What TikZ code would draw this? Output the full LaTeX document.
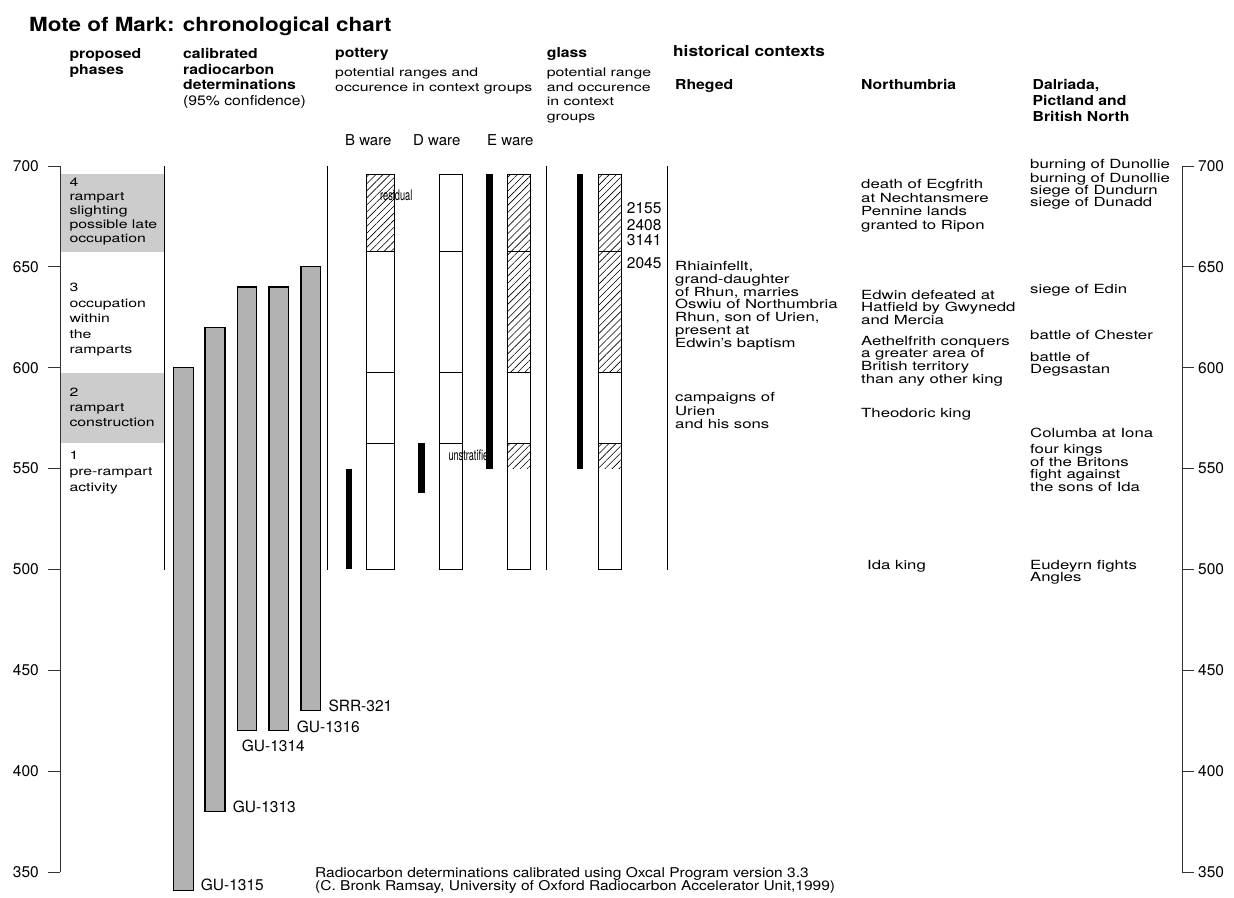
\documentclass[tikz,border=0pt]{standalone}
\usepackage{fontspec}
\setmainfont{TeX Gyre Heros}[FakeStretch=1.33]
\newfontfamily\hdfont{TeX Gyre Heros}[FakeStretch=1.15]
\newfontfamily\numfont{TeX Gyre Heros}
\newcommand\tightlines{\lineskiplimit=-20pt\relax}
\usetikzlibrary{patterns.meta}
\tikzset{
  every node/.style={inner sep=0pt, anchor=base west, align=left},
  title/.style={font=\hdfont\bfseries\fontsize{19.5}{22}\selectfont},
  colhead/.style={font=\hdfont\bfseries\fontsize{13.7}{15.8}\selectfont\tightlines},
  bighead/.style={font=\hdfont\bfseries\fontsize{15}{17}\selectfont},
  desc/.style={font=\fontsize{11.9}{14.5}\selectfont\tightlines},
  phase/.style={font=\fontsize{11.9}{#1}\selectfont\tightlines},
  hist/.style={font=\fontsize{12.6}{#1}\selectfont\tightlines},
  hist/.default=12.8,
  foot/.style={font=\hdfont\fontsize{13.5}{13}\selectfont\tightlines},
  num/.style={font=\numfont\fontsize{15.5}{15.5}\selectfont},
  ware/.style={font=\numfont\fontsize{15}{15}\selectfont},
  narrow/.style={font=\numfont\fontsize{14.6}{14.6}\selectfont},
  years/.style={shift={(0,1577.9)}, y=2.017pt},
  axis/.style={line width=0.9pt, black!80},
  sep/.style={line width=0.9pt},
  boxline/.style={line width=0.8pt},
  rc/.style={fill=black!30, draw=black, line width=1.1pt},
  phasefill/.style={fill=black!20},
  hatch/.style={pattern={Lines[angle=45,distance=5pt,line width=.6pt]}},
}

\begin{document}
\begin{tikzpicture}[x=1pt, y=-1pt]
  \useasboundingbox (0,0) rectangle (1234,897);

  \begin{scope}[years]
    \fill[phasefill] (60.3,696) rectangle (164.3,657.5);
    \fill[phasefill] (60.3,597.5) rectangle (164.3,562.5);
    \draw[axis] (60.3,700) -- (60.3,350);
    \draw[axis] (1182.3,700) -- (1182.3,350);
    \foreach \v in {350,400,...,700} {
      \draw[axis] (47.5,\v) -- (60.3,\v);
      \draw[axis] (1182.3,\v) -- (1193.5,\v);
      \node[num, anchor=east] (yl\v) at (39,\v) {\v};
      \node[num, anchor=west] (yr\v) at (1198,\v) {\v};
    }
    \foreach \x in {164.3,327.3,546.7,667.3}
      \draw[sep] (\x,700) -- (\x,499.5);

    \foreach \xa/\xb/\ya/\yb in {173.3/193.3/600/341, 205/225/620/380,
        237.3/256.7/640/420, 269/288.3/640/420, 301/320.7/650/430}
      \draw[rc] (\xa,\ya) rectangle (\xb,\yb);

    \fill[hatch] (366.7,696) rectangle (394,657.5);
    \fill[hatch] (507.3,696) rectangle (530.7,597.5);
    \fill[hatch] (507.3,562.5) rectangle (530.7,550);
    \fill[hatch] (598.3,696) rectangle (621.7,597.5);
    \fill[hatch] (598.3,562.5) rectangle (621.7,550);
    \foreach \xa/\xb in {366.7/394, 439.3/462.3, 507.3/530.7, 598.3/621.7} {
      \draw[boxline] (\xa,696) rectangle (\xb,500);
      \foreach \d in {657.5,597.5,562.5}
        \draw[boxline] (\xa,\d) -- (\xb,\d);
    }
  \end{scope}

  \node[narrow] (resid) at (380,200) {\scalebox{0.63}[1]{residual}};
  \node[narrow] (unstrat) at (448.3,460) {\scalebox{0.63}[1]{unstratified}};

  \begin{scope}[years]
    \foreach \xa/\xb/\ya/\yb in {345.7/352.3/550/500, 418.3/425/562.5/538,
        486/492.7/696/550, 576.7/583.3/696/550}
      \fill (\xa,\ya) rectangle (\xb,\yb);
  \end{scope}

  \node[title] (title) at (29,31.5) {Mote of Mark: chronological chart};
  \node[colhead] (hphases) at (69.3,74.1) {proposed\\phases};
  \node[colhead] (hradio) at (183,105.7) {calibrated\\radiocarbon\\determinations\\{\mdseries (95\% confidence)}};
  \node[colhead] (hpottery) at (335,57.5) {pottery};
  \node[desc] (dpottery) at (335,91) {potential ranges and\\occurence in context groups};
  \node[colhead] (hglass) at (546.7,57.5) {glass};
  \node[desc] (dglass) at (546.7,120) {potential range\\and occurence\\in context\\groups};
  \node[bighead] (hhist) at (673,56) {historical contexts};
  \node[colhead] (hrheged) at (675,89.5) {Rheged};
  \node[colhead] (hnorth) at (861,89.5) {Northumbria};
  \node[colhead] (hdal) at (1032.5,121.5) {Dalriada,\\Pictland and\\British North};

  \node[ware] (bware) at (345,145) {B ware};
  \node[ware] (dware) at (413,145) {D ware};
  \node[ware] (eware) at (487,145) {E ware};

  \node[phase=14.1] (ph4) at (69.3,242.9) {4\\rampart\\slighting\\possible late\\occupation};
  \node[phase=15.5] (ph3) at (69.3,353.5) {3\\occupation\\within\\the\\ramparts};
  \node[phase=15] (ph2) at (69.3,426.5) {2\\rampart\\construction};
  \node[phase=15.8] (ph1) at (69.3,491.1) {1\\pre-rampart\\activity};

  \node[num] (g2155) at (626.7,213.5) {2155};
  \node[num] (g2408) at (626.7,230.5) {2408};
  \node[num] (g3141) at (626.7,245.5) {3141};
  \node[num] (g2045) at (626.7,268.5) {2045};

  \node[num] (gu1315) at (200.7,890) {GU-1315};
  \node[num] (gu1313) at (232.7,812) {GU-1313};
  \node[num] (gu1314) at (241.7,751) {GU-1314};
  \node[num] (gu1316) at (296.7,732.5) {GU-1316};
  \node[num] (srr321) at (328.3,711.5) {SRR-321};

  \node[hist] (rh1) at (675,347.3) {Rhiainfellt,\\grand-daughter\\of Rhun, marries\\Oswiu of Northumbria\\Rhun, son of Urien,\\present at\\Edwin's baptism};
  \node[hist=13.5] (rh2) at (675,428.5) {campaigns of\\Urien\\and his sons};

  \node[hist=13.6] (no1) at (861,229.3) {death of Ecgfrith\\at Nechtansmere\\Pennine lands\\granted to Ripon};
  \node[hist] (no2) at (861,324.6) {Edwin defeated at\\Hatfield by Gwynedd\\and Mercia};
  \node[hist=12.7] (no3) at (861,383.1) {Aethelfrith conquers\\a greater area of\\British territory\\than any other king};
  \node[hist] (no4) at (861,417) {Theodoric king};
  \node[hist] (no5) at (867,569.5) {Ida king};

  \node[hist] (da1) at (1030,168.3) {burning of Dunollie};
  \node[hist=12] (da2) at (1030,206.7) {burning of Dunollie\\siege of Dundurn\\siege of Dunadd};
  \node[hist] (da3) at (1030,293.5) {siege of Edin};
  \node[hist] (da4) at (1030,339) {battle of Chester};
  \node[hist=12.3] (da5) at (1030,373.8) {battle of\\Degsastan};
  \node[hist] (da6) at (1030,437.5) {Columba at Iona};
  \node[hist=12.7] (da7) at (1030,491.6) {four kings\\of the Britons\\fight against\\the sons of Ida};
  \node[hist=12.3] (da8) at (1030,581.8) {Eudeyrn fights\\Angles};

  \node[foot] (footnote) at (315,890) {Radiocarbon determinations calibrated using Oxcal Program version 3.3\\(C. Bronk Ramsay, University of Oxford Radiocarbon Accelerator Unit,1999)};
\end{tikzpicture}
\end{document}
